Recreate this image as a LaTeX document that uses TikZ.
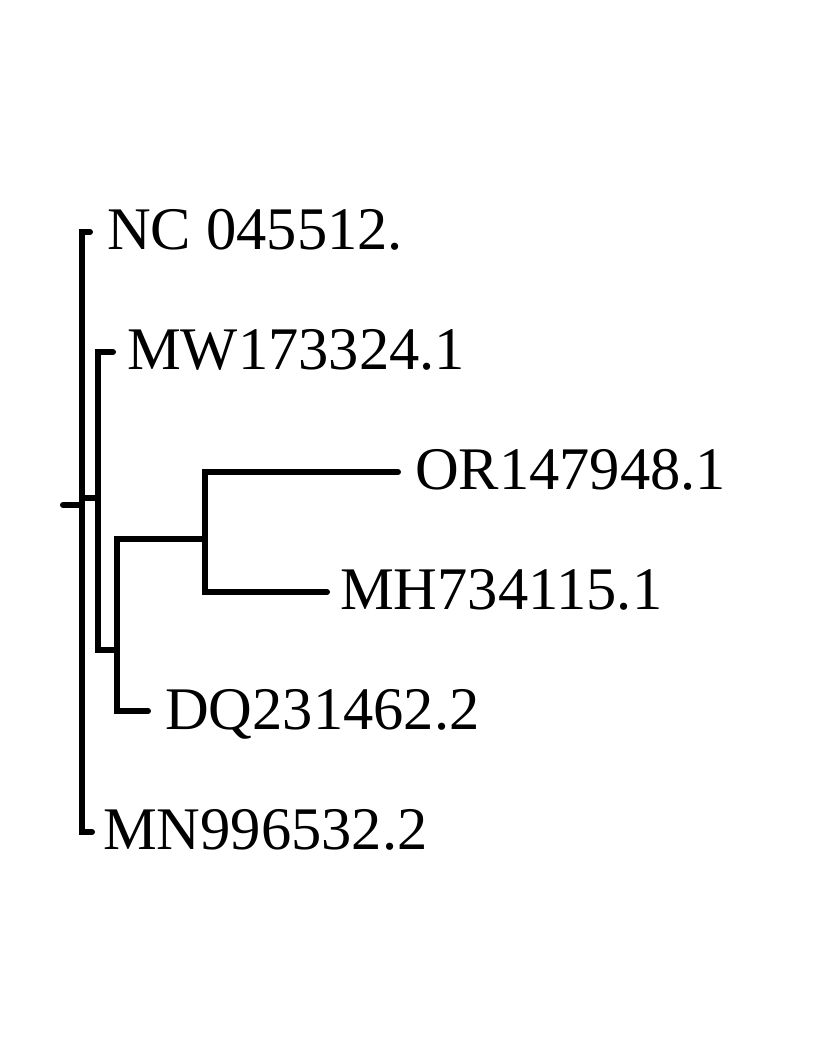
\documentclass[tikz,border=0pt]{standalone}
\usepackage{fontspec}
\setmainfont{Liberation Serif}
\begin{document}
\begin{tikzpicture}[x=1pt,y=-1pt,
  branch/.style={line width=6pt,line cap=round,line join=miter},
  taxon/.style={anchor=base west,inner sep=0pt,font=\fontsize{60.5}{61}\selectfont}]
\useasboundingbox (0,0) rectangle (813,1063);
% internal nodes
\coordinate (root) at (63,505);
\coordinate (r) at (82,505);
\coordinate (a) at (98,498);
\coordinate (b) at (117,650);
\coordinate (c) at (205,539);
% tips
\coordinate (tNC) at (90,232);
\coordinate (tMW) at (113,352);
\coordinate (tOR) at (398,472);
\coordinate (tMH) at (327,592);
\coordinate (tDQ) at (148,711);
\coordinate (tMN) at (92,832);
% labels
\node[taxon] (lNC) at (107,249) {NC 045512.};
\node[taxon] (lMW) at (127,369) {MW173324.1};
\node[taxon] (lOR) at (415,489) {OR147948.1};
\node[taxon] (lMH) at (340,609) {MH734115.1};
\node[taxon] (lDQ) at (165,729) {DQ231462.2};
\node[taxon] (lMN) at (103,849) {MN996532.2};
% branches
\draw[branch] (root) -- (r);
\draw[branch] (tNC) -| (r) |- (tMN);
\draw[branch] (r |- a) -- (a);
\draw[branch] (tMW) -| (a) |- (b);
\draw[branch] (c) -| (b) |- (tDQ);
\draw[branch] (tOR) -| (c) |- (tMH);
\end{tikzpicture}
\end{document}
